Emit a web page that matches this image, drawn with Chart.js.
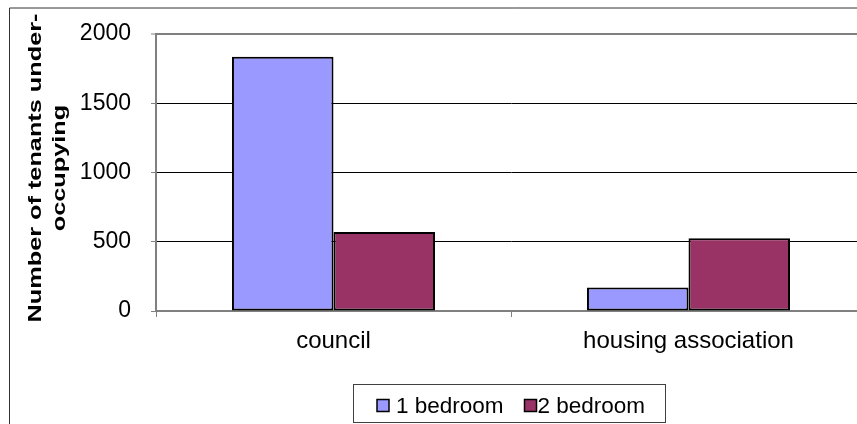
<!DOCTYPE html>
<html>
<head>
<meta charset="utf-8">
<script src="https://cdn.jsdelivr.net/npm/chart.js@4"></script>
<style>
    html, body { margin: 0; padding: 0; background: #fff; overflow: hidden; }
    #wrap { width: 1018px; height: 424px; }
</style>
</head>
<body>
<div id="wrap"><canvas id="tenantsChart" width="1018" height="424"></canvas></div>
<script>
// under-occupying tenants by landlord type
const categories = ['council', 'housing association'];
const oneBedroom = [1835, 170];
const twoBedroom = [570, 525];
const seriesNames = ['1 bedroom', '2 bedroom'];
const yTicks = [0, 500, 1000, 1500, 2000];
const yTitle = ['Number of tenants under-', 'occupying'];

const FONT = "'Liberation Sans', Arial, sans-serif";

// outer frame, rotated axis title and boxed legend
const decorations = {
    id: 'decorations',
    beforeDraw(chart) {
        const ctx = chart.ctx;
        ctx.save();
        ctx.fillStyle = '#fff';
        ctx.fillRect(0, 0, chart.width, chart.height);
        ctx.strokeStyle = '#333';
        ctx.lineWidth = 1;
        ctx.beginPath();
        ctx.moveTo(9.5, chart.height);
        ctx.lineTo(9.5, 8);
        ctx.lineTo(chart.width, 8);
        ctx.stroke();
        ctx.restore();
    },
    afterDraw(chart) {
        const ctx = chart.ctx;

        // y axis title, two lines, stretched along its length
        ctx.save();
        ctx.fillStyle = '#000';
        ctx.font = 'bold 19px ' + FONT;
        ctx.textAlign = 'center';
        ctx.textBaseline = 'middle';
        const lineX = [35.5, 60];
        yTitle.forEach((line, i) => {
            ctx.save();
            ctx.translate(lineX[i], 168);
            ctx.rotate(-Math.PI / 2);
            ctx.scale(1.33, 1);
            ctx.fillText(line, 0, 0);
            ctx.restore();
        });
        ctx.restore();

        // legend box
        ctx.save();
        ctx.strokeStyle = '#404040';
        ctx.lineWidth = 1;
        ctx.strokeRect(353.5, 384.5, 312, 38);
        const markerX = [377, 524.5];
        const textX = [396, 537.5];
        ctx.font = '22.5px ' + FONT;
        ctx.textBaseline = 'alphabetic';
        ctx.textAlign = 'left';
        chart.data.datasets.forEach((ds, i) => {
            ctx.fillStyle = ds.backgroundColor;
            ctx.fillRect(markerX[i], 399.5, 12, 12);
            ctx.strokeStyle = '#000';
            ctx.lineWidth = 1.5;
            ctx.strokeRect(markerX[i], 399.5, 12, 12);
            ctx.fillStyle = '#000';
            ctx.fillText(ds.label, textX[i], 412.5);
        });
        ctx.restore();
    }
};

document.addEventListener('DOMContentLoaded', () => {
    const tenantsCtx = document.getElementById('tenantsChart').getContext('2d');

    new Chart(tenantsCtx, {
        type: 'bar',
        data: {
            labels: categories,
            datasets: [{
                label: seriesNames[0],
                data: oneBedroom,
                backgroundColor: '#9999FF',
                borderColor: '#000',
                borderWidth: 2,
                borderSkipped: false
            }, {
                label: seriesNames[1],
                data: twoBedroom,
                backgroundColor: '#993366',
                borderColor: '#000',
                borderWidth: 2,
                borderSkipped: false
            }]
        },
        options: {
            responsive: false,
            animation: false,
            events: [],
            layout: {
                padding: { left: 0, top: 34, right: 152, bottom: 0 }
            },
            datasets: {
                bar: {
                    categoryPercentage: 0.572,
                    barPercentage: 1
                }
            },
            plugins: {
                legend: { display: false },
                tooltip: { enabled: false }
            },
            scales: {
                x: {
                    afterFit(scale) { scale.height = 113; },
                    border: { color: '#808080', width: 2 },
                    grid: {
                        offset: true,
                        drawOnChartArea: false,
                        tickLength: 6,
                        tickColor: '#808080',
                        tickWidth: 1
                    },
                    ticks: {
                        color: '#000',
                        padding: 10,
                        font: { family: FONT, size: 24 }
                    }
                },
                y: {
                    min: yTicks[0],
                    max: yTicks[yTicks.length - 1],
                    afterFit(scale) { scale.width = 156; },
                    afterBuildTicks(scale) {
                        scale.ticks = yTicks.map(v => ({ value: v }));
                    },
                    border: { color: '#808080', width: 2 },
                    grid: {
                        color: ctx => (ctx.tick && ctx.tick.value === 2000) ? '#808080' : '#000',
                        lineWidth: ctx => (ctx.tick && ctx.tick.value === 2000) ? 2 : 1,
                        tickLength: 5,
                        tickColor: '#808080',
                        tickWidth: 1
                    },
                    ticks: {
                        color: '#000',
                        padding: 20,
                        font: { family: FONT, size: 23 },
                        callback: value => String(value)
                    }
                }
            }
        },
        plugins: [decorations]
    });
});
</script>
</body>
</html>
